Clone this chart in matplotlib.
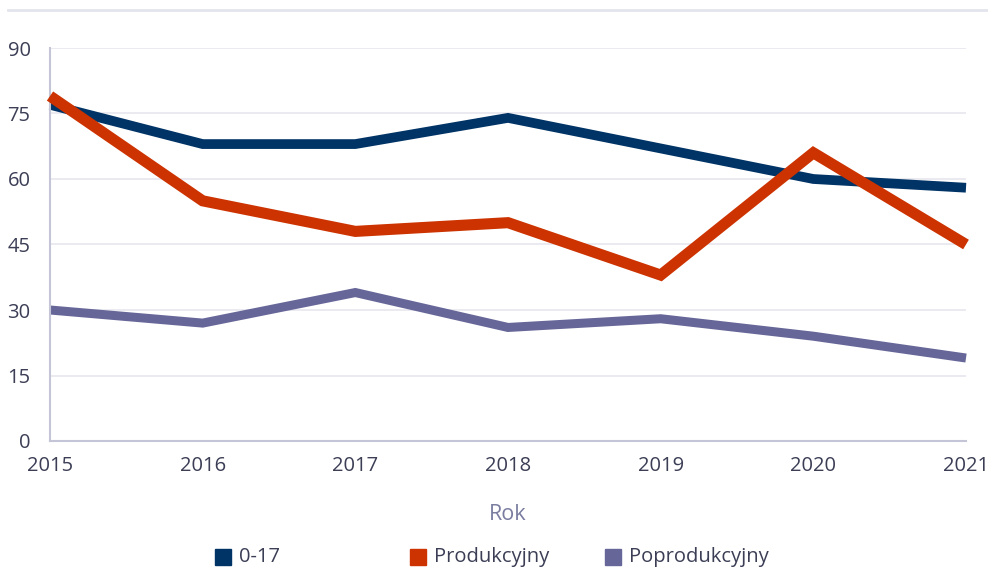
import matplotlib
matplotlib.use("Agg")
import matplotlib.pyplot as plt
from matplotlib.lines import Line2D

plt.rcParams['font.family'] = ['Open Sans', 'DejaVu Sans']

years = [2015, 2016, 2017, 2018, 2019, 2020, 2021]
age_0_17 = [77, 68, 68, 74, 67, 60, 58]
produkcyjny = [79, 55, 48, 50, 38, 66, 45]
poprodukcyjny = [30, 27, 34, 26, 28, 24, 19]

labels = ['0-17', 'Produkcyjny', 'Poprodukcyjny']
colors = ['#003366', '#cc3300', '#666699']
yticks = [0, 15, 30, 45, 60, 75, 90]

text_color = '#3b3e55'

fig = plt.figure(figsize=(9.88, 5.71), dpi=100)
ax = fig.add_axes([50 / 988, 130 / 571, 916 / 988, 393 / 571])

# thin separator line at the very top
fig.add_artist(Line2D([8 / 988, 1], [1 - 10 / 571, 1 - 10 / 571],
                      color='#e4e4ec', lw=2.0, transform=fig.transFigure))

series = [age_0_17, produkcyjny, poprodukcyjny]
widths = [7.0, 8.0, 6.5]
order = [1, 3, 2]
for vals, col, lw, z, lab in zip(series, colors, widths, order, labels):
    ax.plot(years, vals, color=col, lw=lw, zorder=z, label=lab,
            solid_joinstyle='miter', solid_capstyle='butt', clip_on=False)

ax.set_xlim(2015, 2021)
ax.set_ylim(0, 90)
ax.set_yticks(yticks)
ax.set_xticks(years)
ax.grid(axis='y', color='#e6e6ee', lw=1.2)
ax.set_axisbelow(True)

for s in ['top', 'right']:
    ax.spines[s].set_visible(False)
ax.spines['left'].set_color('#c4c6d8')
ax.spines['bottom'].set_color('#c4c6d8')
ax.spines['left'].set_linewidth(1.5)
ax.spines['bottom'].set_linewidth(1.5)

ax.tick_params(axis='both', length=0, labelsize=14.5, labelcolor=text_color)
ax.tick_params(axis='y', pad=14)
ax.tick_params(axis='x', pad=11)

ax.set_xlabel('Rok', fontsize=15.5, color='#7a7ca0', labelpad=20)

# legend: fixed-width entries as in the reference
leg_y = 1 - 557 / 571
leg_x = [215, 410, 605]
for x, col, lab in zip(leg_x, colors, labels):
    fig.add_artist(Line2D([(x + 8) / 988], [leg_y], marker='s', ls='none',
                          markersize=12, markerfacecolor=col, markeredgecolor=col,
                          transform=fig.transFigure))
    fig.text((x + 24) / 988, leg_y, lab, fontsize=14.5, color=text_color,
             va='center', ha='left')

fig.savefig('out.png', dpi=100)
